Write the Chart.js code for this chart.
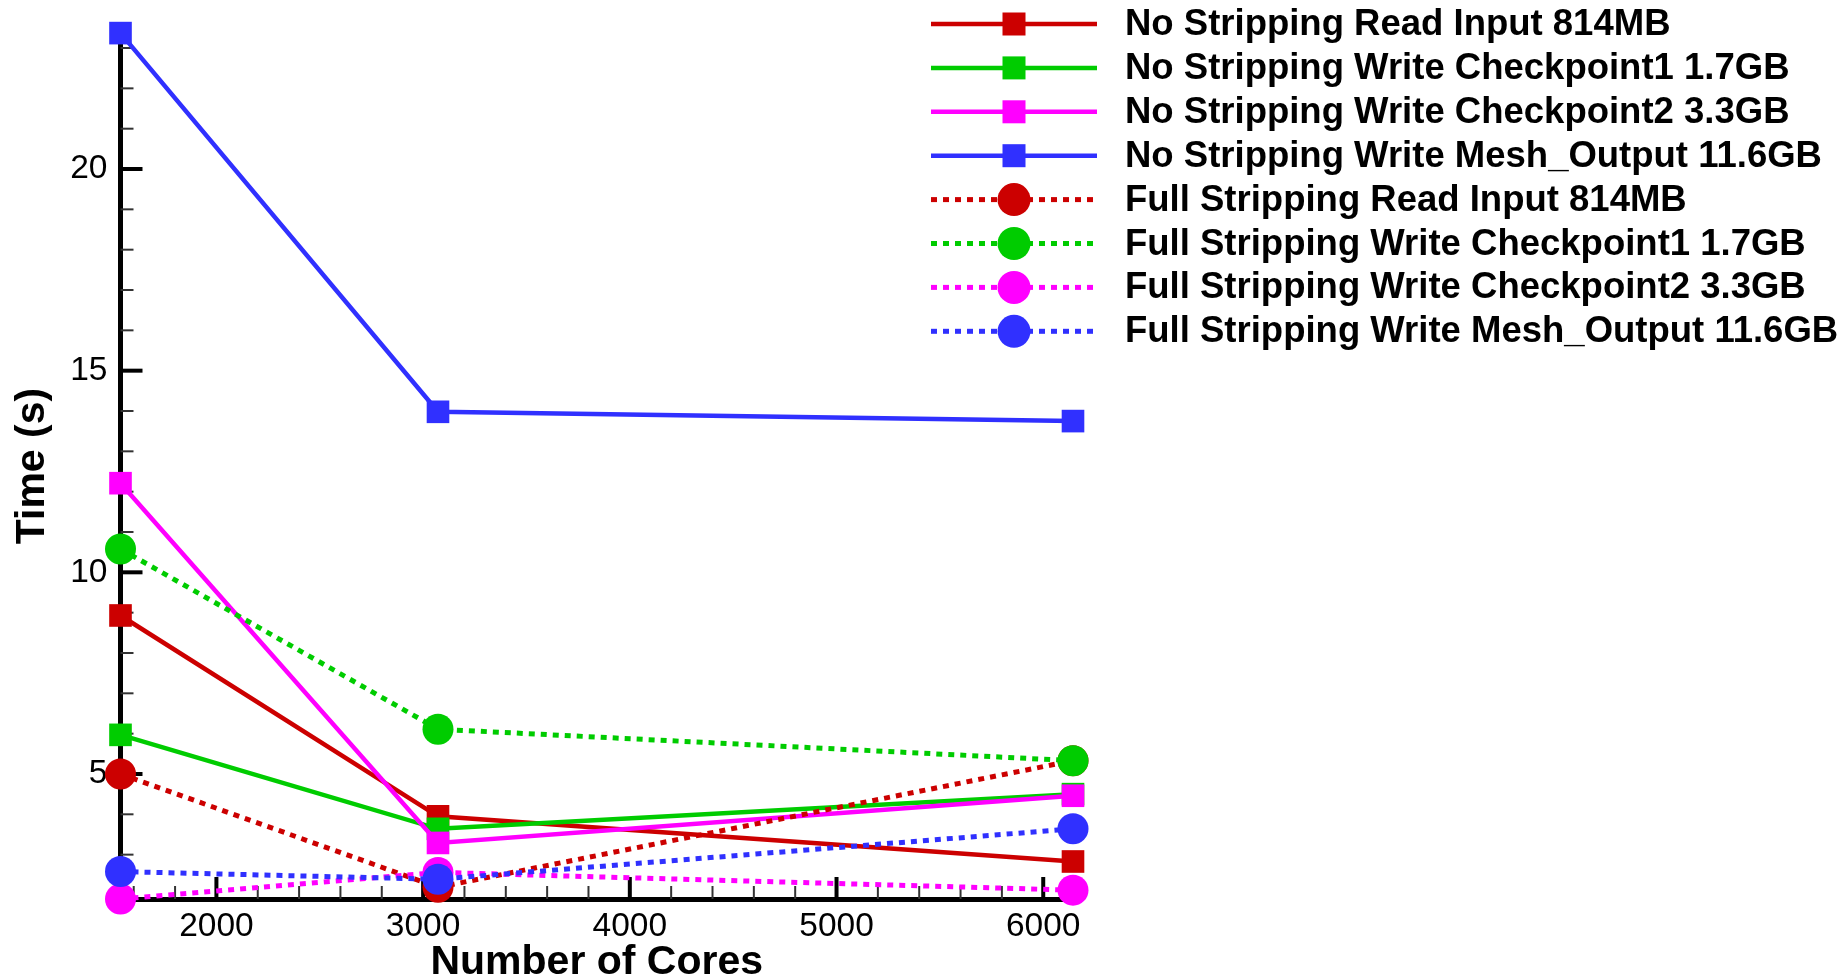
<!DOCTYPE html>
<html>
<head>
<meta charset="utf-8">
<title>I/O time vs number of cores</title>
<script src="https://cdn.jsdelivr.net/npm/chart.js@4"></script>
<style>
  html, body { margin: 0; padding: 0; background: #fff; }
  #wrap { width: 1848px; height: 977px; position: relative; }
</style>
</head>
<body>
<div id="wrap"><canvas id="ioChart"></canvas></div>
<script>
// Number of cores (x values)
const cores = [1536, 3072, 6144];

// Time in seconds
const noReadInput = [8.93, 3.95, 2.83];
const noCheckpoint1 = [5.97, 3.64, 4.50];
const noCheckpoint2 = [12.21, 3.29, 4.46];
const noMeshOutput = [23.37, 13.98, 13.75];
const fullReadInput = [5.00, 2.19, 5.33];
const fullCheckpoint1 = [10.58, 6.11, 5.33];
const fullCheckpoint2 = [1.90, 2.56, 2.12];
const fullMeshOutput = [2.58, 2.39, 3.64];

const seriesLabels = [
  "No Stripping Read Input 814MB",
  "No Stripping Write Checkpoint1 1.7GB",
  "No Stripping Write Checkpoint2 3.3GB",
  "No Stripping Write Mesh_Output 11.6GB",
  "Full Stripping Read Input 814MB",
  "Full Stripping Write Checkpoint1 1.7GB",
  "Full Stripping Write Checkpoint2 3.3GB",
  "Full Stripping Write Mesh_Output 11.6GB"
];
const seriesValues = [noReadInput, noCheckpoint1, noCheckpoint2, noMeshOutput,
  fullReadInput, fullCheckpoint1, fullCheckpoint2, fullMeshOutput];

const xTickValues = [2000, 3000, 4000, 5000, 6000];
const yTickValues = [5, 10, 15, 20];

const RED = "#cc0000", GREEN = "#00cc00", PINK = "#ff00ff", BLUE = "#3030ff";
const colors = [RED, GREEN, PINK, BLUE, RED, GREEN, PINK, BLUE];
const FONT = "'Liberation Sans', Arial, Helvetica, sans-serif";

const datasets = seriesValues.map((vals, i) => {
  const dotted = i >= 4;
  return {
    label: seriesLabels[i],
    data: vals.map((v, j) => ({ x: cores[j], y: v })),
    borderColor: colors[i],
    backgroundColor: colors[i],
    borderWidth: dotted ? 5 : 4.5,
    borderDash: dotted ? [6, 6] : [],
    borderCapStyle: "butt",
    pointStyle: dotted ? "circle" : "rect",
    pointRadius: dotted ? 15.5 : 16,
    pointBorderWidth: 0,
    pointBackgroundColor: colors[i],
    tension: 0,
    clip: false,
    order: 7 - i
  };
});

// inward major/minor tick marks like the original plot
const tickMarks = {
  id: "tickMarks",
  beforeDatasetsDraw(chart) {
    const { ctx, chartArea } = chart;
    const xs = chart.scales.x, ys = chart.scales.y;
    ctx.save();
    ctx.lineCap = "butt";
    for (let v = Math.ceil(xs.min / 200) * 200; v <= xs.max; v += 200) {
      const major = xTickValues.includes(v);
      const px = xs.getPixelForValue(v);
      ctx.strokeStyle = major ? "#000" : "#333";
      ctx.lineWidth = major ? 4 : 2;
      ctx.beginPath();
      ctx.moveTo(px, chartArea.bottom);
      ctx.lineTo(px, chartArea.bottom - (major ? 22 : 13));
      ctx.stroke();
    }
    for (let v = Math.ceil(ys.min); v <= ys.max; v += 1) {
      const major = yTickValues.includes(v);
      const py = ys.getPixelForValue(v);
      ctx.strokeStyle = major ? "#000" : "#333";
      ctx.lineWidth = major ? 4 : 2;
      ctx.beginPath();
      ctx.moveTo(chartArea.left, py);
      ctx.lineTo(chartArea.left + (major ? 22 : 13), py);
      ctx.stroke();
    }
    ctx.restore();
  }
};

// legend with line + marker samples, drawn to the right of the plot
const sideLegend = {
  id: "sideLegend",
  afterDraw(chart) {
    const ctx = chart.ctx;
    ctx.save();
    chart.data.datasets.forEach((ds, i) => {
      const y = 24 + i * 43.9;
      ctx.strokeStyle = ds.borderColor;
      ctx.lineWidth = ds.borderWidth;
      ctx.lineCap = "butt";
      ctx.setLineDash(ds.borderDash);
      ctx.beginPath();
      ctx.moveTo(931, y);
      ctx.lineTo(1097, y);
      ctx.stroke();
      ctx.setLineDash([]);
      ctx.fillStyle = ds.pointBackgroundColor;
      if (ds.pointStyle === "rect") {
        ctx.fillRect(1014 - 11.5, y - 11.5, 23, 23);
      } else {
        ctx.beginPath();
        ctx.arc(1014, y, 16.5, 0, Math.PI * 2);
        ctx.fill();
      }
      ctx.fillStyle = "#000";
      ctx.font = "bold 36.5px " + FONT;
      ctx.textAlign = "left";
      ctx.textBaseline = "middle";
      ctx.fillText(ds.label, 1125, y + 1);
    });
    ctx.restore();
  }
};

new Chart(document.getElementById("ioChart"), {
  type: "line",
  data: { datasets },
  options: {
    responsive: true,
    maintainAspectRatio: false,
    animation: false,
    events: [],
    layout: { padding: { top: 29, right: 775, bottom: 0, left: 0 } },
    plugins: { legend: { display: false }, tooltip: { enabled: false } },
    scales: {
      x: {
        type: "linear",
        min: 1536,
        max: 6144,
        afterFit(scale) { scale.height = 78; },
        afterBuildTicks(scale) { scale.ticks = xTickValues.map(v => ({ value: v })); },
        grid: { display: false, drawTicks: false },
        border: { display: true, color: "#000", width: 5 },
        ticks: {
          color: "#000",
          padding: 8,
          font: { family: FONT, size: 33.5 },
          callback: v => String(v)
        },
        title: {
          display: true,
          text: "Number of Cores",
          color: "#000",
          font: { family: FONT, size: 41, weight: "bold", lineHeight: 0.7 },
          padding: { top: 0, bottom: 0 }
        }
      },
      y: {
        type: "linear",
        min: 1.9,
        max: 23.37,
        afterFit(scale) { scale.width = 120.5; },
        afterBuildTicks(scale) { scale.ticks = yTickValues.map(v => ({ value: v })); },
        grid: { display: false, drawTicks: false },
        border: { display: true, color: "#000", width: 5 },
        ticks: {
          color: "#000",
          padding: 13,
          font: { family: FONT, size: 33.5 },
          callback: v => String(v)
        },
        title: {
          display: true,
          text: "Time (s)",
          color: "#000",
          font: { family: FONT, size: 41, weight: "bold", lineHeight: 1.2 },
          padding: { top: 8, bottom: 0 }
        }
      }
    }
  },
  plugins: [tickMarks, sideLegend]
});
</script>
</body>
</html>
